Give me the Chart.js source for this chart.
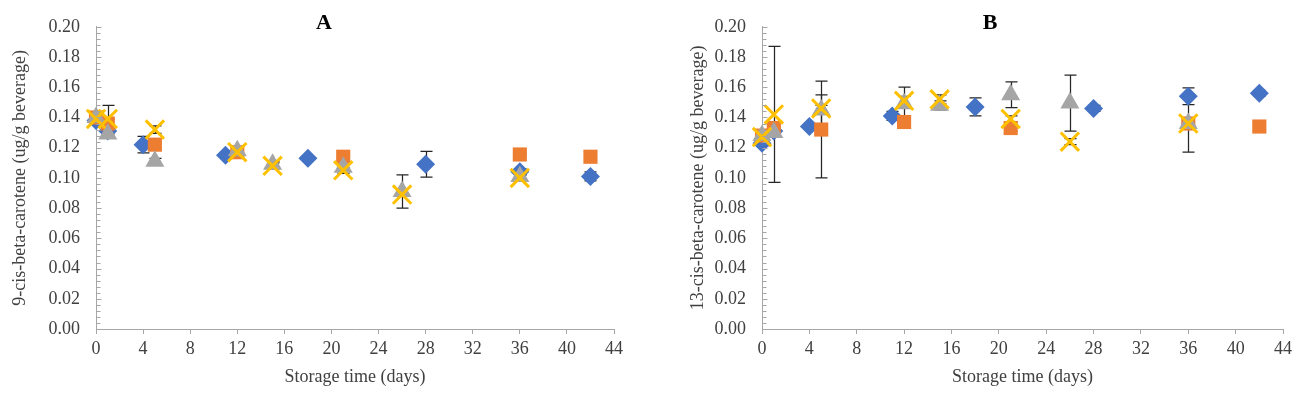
<!DOCTYPE html>
<html>
<head>
<meta charset="utf-8">
<script src="https://cdn.jsdelivr.net/npm/chart.js@4"></script>
<style>
  html, body { margin: 0; padding: 0; background: #fff; }
  #wrap { position: relative; width: 1301px; height: 396px; }
  canvas { position: absolute; top: 0; }
</style>
</head>
<body>
<div id="wrap">
  <canvas id="chartA" width="650" height="396" style="left:0"></canvas>
  <canvas id="chartB" width="651" height="396" style="left:650px"></canvas>
</div>
<script>
// storage days for each series
const daysBlue = [0, 1, 4, 11, 18, 28, 36, 42];
const daysOrange = [0, 1, 5, 12, 21, 36, 42];
const daysGray = [0, 1, 5, 12, 15, 21, 26, 36];
const daysCross = [0, 1, 5, 12, 15, 21, 26, 36];

// panel A: 9-cis-beta-carotene
const blueA = [0.138, 0.131, 0.122, 0.115, 0.113, 0.109, 0.104, 0.101];
const blueErrA = [0.002, 0.002, 0.0055, 0.002, 0.001, 0.0085, 0.002, 0.003];
const orangeA = [0.140, 0.136, 0.122, 0.117, 0.114, 0.1155, 0.114];
const orangeErrA = [0.002, 0.003, 0.002, 0.002, 0.001, 0.001, 0.001];
const grayA = [0.140, 0.129, 0.111, 0.118, 0.109, 0.107, 0.091, 0.101];
const grayErrA = [0.002, 0.002, 0.002, 0.002, 0.002, 0.002, 0.011, 0.002];
const crossA = [0.139, 0.139, 0.132, 0.117, 0.108, 0.105, 0.089, 0.100];
const crossErrA = [0.002, 0.009, 0.0025, 0.002, 0.002, 0.002, 0, 0.002];

// panel B: 13-cis-beta-carotene
const blueB = [0.123, 0.131, 0.134, 0.141, 0.147, 0.146, 0.154, 0.156];
const blueErrB = [0.002, 0.002, 0.001, 0.003, 0.006, 0.002, 0.0055, 0.002];
const orangeB = [0.128, 0.133, 0.132, 0.137, 0.133, 0.136, 0.134];
const orangeErrB = [0.002, 0.002, 0.032, 0.002, 0.002, 0.002, 0.002];
const grayB = [0.128, 0.130, 0.145, 0.149, 0.148, 0.155, 0.1495, 0.136];
const grayErrB = [0.002, 0.002, 0.010, 0.011, 0.003, 0.0085, 0.0185, 0.019];
const crossB = [0.127, 0.142, 0.146, 0.151, 0.152, 0.139, 0.124, 0.136];
const crossErrB = [0.002, 0.045, 0.002, 0.003, 0.003, 0.002, 0.002, 0.002];

const xMin = 0, xMax = 44, xStep = 4;
const yMin = 0, yMax = 0.2, yStep = 0.02, yMinorStep = 0.004;

const FONT = "'Liberation Serif', 'Times New Roman', serif";
const TEXT = "#404040";
const AXIS = "#a6a6a6";

function pts(days, vals) {
  return days.map((d, i) => ({ x: d, y: vals[i] }));
}

// error bars, drawn under the markers
const errorBars = {
  id: "errorBars",
  beforeDatasetsDraw(chart) {
    const { ctx, scales: { x, y } } = chart;
    ctx.save();
    ctx.strokeStyle = "#262626";
    ctx.lineWidth = 1.25;
    chart.data.datasets.forEach(ds => {
      (ds.err || []).forEach((e, i) => {
        if (!e) return;
        const p = ds.data[i];
        const px = Math.round(x.getPixelForValue(p.x)) + 0.5;
        const top = y.getPixelForValue(p.y + e);
        const bot = y.getPixelForValue(p.y - e);
        ctx.beginPath();
        ctx.moveTo(px, top); ctx.lineTo(px, bot);
        ctx.moveTo(px - 6, top); ctx.lineTo(px + 6, top);
        ctx.moveTo(px - 6, bot); ctx.lineTo(px + 6, bot);
        ctx.stroke();
      });
    });
    ctx.restore();
  }
};

// minor tick marks on the value axis + panel letter
const axisExtras = {
  id: "axisExtras",
  afterDraw(chart, args, opts) {
    const { ctx, scales: { y }, chartArea } = chart;
    ctx.save();
    ctx.strokeStyle = AXIS;
    ctx.lineWidth = 1;
    const ax = Math.round(chartArea.left) + 0.5;
    const n = Math.round((yMax - yMin) / yMinorStep);
    for (let i = 0; i <= n; i++) {
      const py = Math.round(y.getPixelForValue(yMin + i * yMinorStep)) + 0.5;
      const len = i % 5 === 0 ? 5 : 4;
      ctx.beginPath();
      ctx.moveTo(ax, py); ctx.lineTo(ax + len, py);
      ctx.stroke();
    }
    ctx.fillStyle = "#000";
    ctx.font = "bold 22px " + FONT;
    ctx.textAlign = "center";
    ctx.textBaseline = "middle";
    ctx.fillText(opts.letter, opts.x, opts.y);
    ctx.restore();
  }
};

function makeChart(id, cfg) {
  const datasets = [
    { data: pts(daysBlue, cfg.blue), err: cfg.blueErr, pointStyle: "rectRot", radius: 9.5,
      backgroundColor: "#4472C4", borderWidth: 0, order: 4 },
    { data: pts(daysOrange, cfg.orange), err: cfg.orangeErr, pointStyle: "rect", radius: 10,
      backgroundColor: "#ED7D31", borderWidth: 0, order: 3 },
    { data: pts(daysGray, cfg.gray), err: cfg.grayErr, pointStyle: "triangle", radius: 11,
      backgroundColor: "#A5A5A5", borderWidth: 0, order: 2 },
    { data: pts(daysCross, cfg.cross), err: cfg.crossErr, pointStyle: "crossRot", radius: 13,
      backgroundColor: "#FFC000", borderColor: "#FFC000", borderWidth: 3, order: 1 }
  ];
  datasets.forEach(d => { d.clip = false; d.hoverRadius = d.radius; d.showLine = false; });

  return new Chart(document.getElementById(id), {
    type: "scatter",
    data: { datasets },
    plugins: [errorBars, axisExtras],
    options: {
      responsive: false,
      animation: false,
      events: [],
      layout: { padding: { left: 0, right: cfg.padRight, top: 18, bottom: 0 } },
      plugins: {
        legend: { display: false },
        tooltip: { enabled: false },
        axisExtras: { letter: cfg.letter, x: cfg.letterX, y: 23 }
      },
      scales: {
        x: {
          type: "linear", min: xMin, max: xMax,
          afterFit: s => { s.height = 67; },
          ticks: { stepSize: xStep, padding: 4, color: TEXT, font: { family: FONT, size: 18 } },
          grid: { display: true, drawOnChartArea: false, drawTicks: true, tickLength: 5, color: AXIS },
          border: { display: true, color: AXIS, width: 1 },
          title: { display: true, text: "Storage time (days)", color: TEXT,
                   font: { family: FONT, size: 18 }, padding: { top: 0, bottom: 8 } }
        },
        y: {
          type: "linear", min: yMin, max: yMax,
          afterFit: s => { s.width = cfg.yWidth; },
          ticks: { stepSize: yStep, padding: 16, color: TEXT, font: { family: FONT, size: 18 },
                   callback: v => v.toFixed(2) },
          grid: { display: false, drawTicks: false },
          border: { display: true, color: AXIS, width: 1 },
          title: { display: true, text: cfg.yTitle, color: TEXT,
                   font: { family: FONT, size: 18 }, padding: { top: cfg.titlePad, bottom: 0 } }
        }
      }
    }
  });
}

makeChart("chartA", {
  blue: blueA, blueErr: blueErrA, orange: orangeA, orangeErr: orangeErrA,
  gray: grayA, grayErr: grayErrA, cross: crossA, crossErr: crossErrA,
  yTitle: "9-cis-beta-carotene (ug/g beverage)", titlePad: 9,
  yWidth: 96, padRight: 36, letter: "A", letterX: 324
});

makeChart("chartB", {
  blue: blueB, blueErr: blueErrB, orange: orangeB, orangeErr: orangeErrB,
  gray: grayB, grayErr: grayErrB, cross: crossB, crossErr: crossErrB,
  yTitle: "13-cis-beta-carotene (ug/g beverage)", titlePad: 37,
  yWidth: 112, padRight: 18, letter: "B", letterX: 340
});
</script>
</body>
</html>
